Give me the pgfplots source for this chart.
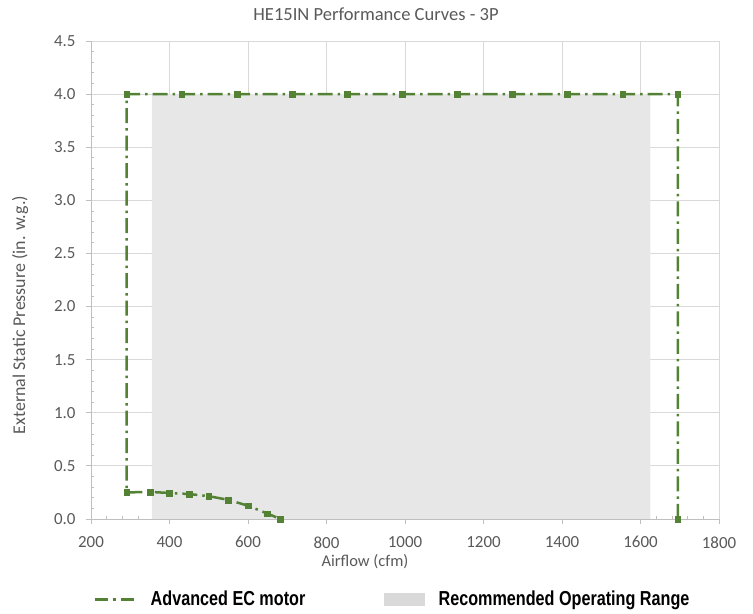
\documentclass[border=0pt]{standalone}
\usepackage{fontspec}
\setmainfont{Carlito}
\newfontfamily\legfont{Liberation Sans}[FakeStretch=0.8]
\usepackage{pgfplots}
\pgfplotsset{compat=1.18}
\definecolor{ecgreen}{HTML}{548235}
\definecolor{txtgray}{HTML}{595959}
\definecolor{gridgray}{HTML}{D9D9D9}
\definecolor{axgray}{HTML}{BFBFBF}
\definecolor{areagray}{HTML}{E7E7E7}
\definecolor{leggray}{HTML}{D9D9D9}

\begin{document}
\begin{tikzpicture}
\path[use as bounding box] (0,0) rectangle (753bp,614bp);
\begin{axis}[
  at={(91bp,95bp)}, anchor=south west,
  scale only axis, width=628bp, height=478bp,
  xmin=200, xmax=1800, ymin=0, ymax=4.5,
  xtick={200,400,...,1800}, ytick={0,0.5,...,4.5},
  minor tick num=4,
  axis x line*=bottom, axis y line*=left,
  axis line style={draw=axgray, line width=0.8bp},
  grid=major, major grid style={draw=gridgray, line width=0.8bp},
  tick align=outside, major tick length=5bp, minor tick length=-3bp,
  every tick/.style={draw=axgray, line width=0.8bp},
  ticklabel style={font=\fontsize{17}{20}\selectfont, text=txtgray},
  /pgf/number format/assume math mode=true,
  yticklabel style={xshift=-7bp, /pgf/number format/.cd, fixed, fixed zerofill, precision=1},
  xticklabel style={yshift=-9bp, /pgf/number format/1000 sep={}},
  legend columns=2,
  legend style={at={(0.0032,-0.1674)}, anchor=west, draw=none, fill=none,
    inner sep=0pt, font=\legfont\bfseries\fontsize{20.3}{23}\selectfont,
    nodes={inner xsep=0pt},
    /tikz/every odd column/.append style={column sep=14.5bp}},
  legend cell align=left,
]
% recommended operating range
\addplot[fill=areagray, draw=none, forget plot] coordinates {(355,0) (355,4.0) (1625,4.0) (1625,0)} \closedcycle;

% Advanced EC motor
\addplot[ecgreen, line width=2.5bp, dash pattern=on 15bp off 5bp on 2.5bp off 5bp,
  mark=square*, mark size=2.9bp, mark options={solid, line width=0.5bp, fill=ecgreen},
  legend image code/.code={\draw[ecgreen, line width=3bp, dash pattern=on 13bp off 5bp on 3bp off 5bp] (0bp,0bp) -- (40bp,0bp);}]
  coordinates {
  (1695,0) (1695,4.0) (1555,4.0) (1414,4.0) (1274,4.0) (1133,4.0) (993,4.0)
  (853,4.0) (712,4.0) (572,4.0) (431,4.0) (291,4.0)
  (291,0.25) (350,0.255) (400,0.245) (450,0.235) (500,0.215) (550,0.18)
  (600,0.125) (650,0.05) (683,0)
  };
\addlegendentry{\makebox[233bp][l]{Advanced EC motor}}

\addlegendimage{legend image code/.code={\fill[leggray] (0bp,-6bp) rectangle (40bp,6bp);}}
\addlegendentry{Recommended Operating Range}
\end{axis}

\node[font=\fontsize{18.6}{22}\selectfont, text=txtgray] at (376bp,600bp) {HE15IN Performance Curves - 3P};
\node[font=\fontsize{16.5}{20}\selectfont, text=txtgray] at (365bp,52bp) {Airflow (cfm)};
\node[font=\fontsize{18}{21}\selectfont, text=txtgray, rotate=90] at (20bp,299bp) {External Static Pressure (in. w.g.)};
\end{tikzpicture}
\end{document}
